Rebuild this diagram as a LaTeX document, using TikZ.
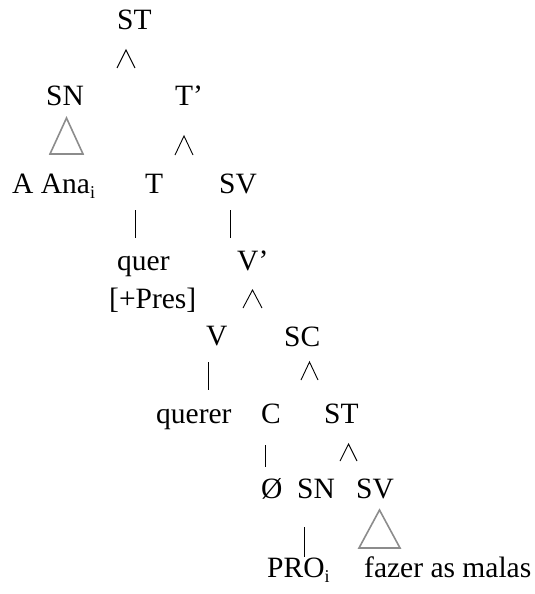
\documentclass[tikz,border=0pt]{standalone}
\usepackage{fontspec}
\setmainfont{Liberation Serif}
\begin{document}
\begin{tikzpicture}[x=1pt,y=-1pt,
  lbl/.style={anchor=base west, inner sep=0pt, font=\fontsize{29.5}{30}\selectfont},
  wedge/.style={line width=0.9pt, black},
  barline/.style={line width=0.9pt, black},
  tri/.style={line width=1.6pt, black!45, line join=miter}]
\useasboundingbox (0,0) rectangle (535,594);
\newcommand{\subi}{{\fontsize{18}{18}\selectfont\raisebox{-5pt}{i}}}
% labels
\node[lbl] (st1) at (117,30) {ST};
\node[lbl] (sn1) at (46,105) {SN};
\node[lbl] (tbar1) at (175,105) {T’};
\node[lbl] (ana) at (12,193) {A Ana\subi};
\node[lbl] (t1) at (145,193) {T};
\node[lbl] (sv1) at (219,193) {SV};
\node[lbl] (quer) at (117,270) {quer};
\node[lbl] (vbar) at (237,270) {V’};
\node[lbl] (pres) at (109,308) {[+Pres]};
\node[lbl] (v1) at (206,345) {V};
\node[lbl] (sc) at (284,346) {SC};
\node[lbl] (querer) at (156,423) {querer};
\node[lbl] (c) at (261,423) {C};
\node[lbl] (st2) at (324,423) {ST};
\node[lbl] (nul) at (261,498) {Ø};
\node[lbl] (sn2) at (297,498) {SN};
\node[lbl] (sv2) at (356,498) {SV};
\node[lbl] (pro) at (267,577) {PRO\subi};
\node[lbl] (fazer) at (364,577) {fazer as malas};
% wedges
\draw[wedge] (117,68) -- (126,50) -- (135,68);
\draw[wedge] (175,155) -- (184,136) -- (193,155);
\draw[wedge] (243,308) -- (252.5,290) -- (262,308);
\draw[wedge] (301,380) -- (309.5,362) -- (318,380);
\draw[wedge] (340,461) -- (348.5,444) -- (357,461);
% bars
\draw[barline] (135,210) -- (135,238);
\draw[barline] (230,210) -- (230,238);
\draw[barline] (208,362) -- (208,390);
\draw[barline] (265,445) -- (265,467);
\draw[barline] (304,527) -- (304,557);
% triangles
\draw[tri] (66.5,118) -- (83,154) -- (50,154) -- cycle;
\draw[tri] (379.5,510) -- (400,548) -- (359,548) -- cycle;
\end{tikzpicture}
\end{document}
